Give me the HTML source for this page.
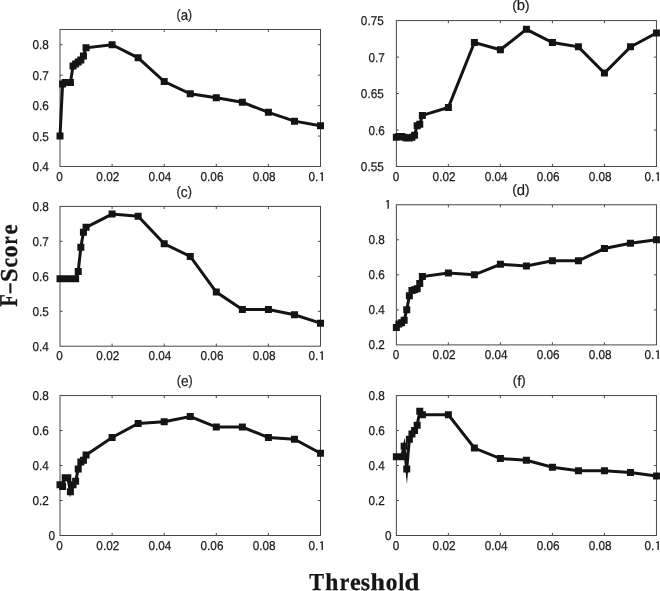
<!DOCTYPE html>
<html><head><meta charset="utf-8"><title>F-Score vs Threshold</title>
<style>
html,body{margin:0;padding:0;background:#fff;}
body{width:660px;height:591px;overflow:hidden;position:relative;font-family:"Liberation Sans",sans-serif;}
svg{position:absolute;left:0;top:0;display:block;filter:grayscale(1);text-rendering:geometricPrecision;}
.t{font-family:"Liberation Sans",sans-serif;font-size:12.8px;fill:#1c1c1c;stroke:#1c1c1c;stroke-width:0.25px;}
.ti{font-family:"Liberation Sans",sans-serif;font-size:14.8px;fill:#1c1c1c;stroke:#1c1c1c;stroke-width:0.2px;}
.sb{font-family:"Liberation Serif",serif;font-weight:bold;fill:#161616;stroke:#161616;stroke-width:0.3px;}
</style></head>
<body>
<svg width="660" height="591" viewBox="0 0 660 591">
<rect width="660" height="591" fill="#fff"/>
<g id="pa">
<rect x="60.00" y="29.50" width="260.50" height="137.00" fill="none" stroke="#484848" stroke-width="1.0"/>
<path d="M112.10 166.50v-2.6M112.10 29.50v2.6M164.20 166.50v-2.6M164.20 29.50v2.6M216.30 166.50v-2.6M216.30 29.50v2.6M268.40 166.50v-2.6M268.40 29.50v2.6M60.00 136.06h2.6M320.50 136.06h-2.6M60.00 105.61h2.6M320.50 105.61h-2.6M60.00 75.17h2.6M320.50 75.17h-2.6M60.00 44.72h2.6M320.50 44.72h-2.6" stroke="#484848" stroke-width="1.0" fill="none"/>
<text transform="translate(56.36,181.00) scale(0.92,1)" class="t">0</text>
<text transform="translate(96.34,181.00) scale(0.92,1)" class="t">0.02</text>
<text transform="translate(148.44,181.00) scale(0.92,1)" class="t">0.04</text>
<text transform="translate(200.54,181.00) scale(0.92,1)" class="t">0.06</text>
<text transform="translate(252.64,181.00) scale(0.92,1)" class="t">0.08</text>
<text transform="translate(308.54,181.00) scale(0.92,1)" class="t">0.</text>
<path transform="translate(322.90,181.00)" fill="#1c1c1c" d="M0 0H-1.35V-7.5L-2.8 -6.65L-3.1 -7.5L-1.1 -8.75H0Z"/>
<text transform="translate(32.54,171.00) scale(0.92,1)" class="t">0.4</text>
<text transform="translate(32.54,140.56) scale(0.92,1)" class="t">0.5</text>
<text transform="translate(32.54,110.11) scale(0.92,1)" class="t">0.6</text>
<text transform="translate(32.54,79.67) scale(0.92,1)" class="t">0.7</text>
<text transform="translate(32.54,49.22) scale(0.92,1)" class="t">0.8</text>
<text transform="translate(176.60,19.80) scale(0.896,1)" class="ti"><tspan font-size="13.6" dy="-0.55">(</tspan><tspan dy="0.55">a</tspan><tspan font-size="13.6" dy="-0.55">)</tspan></text>
<polyline points="60.00,136.06 62.60,84.00 65.21,82.47 67.81,82.47 70.42,82.47 73.03,66.03 75.63,63.90 78.23,62.08 80.84,59.94 83.44,55.99 86.05,47.77 112.10,44.72 138.15,57.81 164.20,81.56 190.25,93.74 216.30,97.70 242.35,102.26 268.40,112.31 294.45,121.14 320.50,125.70" fill="none" stroke="#141414" stroke-width="3.0" stroke-linejoin="miter" stroke-miterlimit="10"/>
<path d="M56.50 132.56h7.0v7.0h-7.0zM59.10 80.50h7.0v7.0h-7.0zM61.71 78.97h7.0v7.0h-7.0zM64.31 78.97h7.0v7.0h-7.0zM66.92 78.97h7.0v7.0h-7.0zM69.53 62.53h7.0v7.0h-7.0zM72.13 60.40h7.0v7.0h-7.0zM74.73 58.58h7.0v7.0h-7.0zM77.34 56.44h7.0v7.0h-7.0zM79.94 52.49h7.0v7.0h-7.0zM82.55 44.27h7.0v7.0h-7.0zM108.60 41.22h7.0v7.0h-7.0zM134.65 54.31h7.0v7.0h-7.0zM160.70 78.06h7.0v7.0h-7.0zM186.75 90.24h7.0v7.0h-7.0zM212.80 94.20h7.0v7.0h-7.0zM238.85 98.76h7.0v7.0h-7.0zM264.90 108.81h7.0v7.0h-7.0zM290.95 117.64h7.0v7.0h-7.0zM317.00 122.20h7.0v7.0h-7.0z" fill="#141414"/>
</g>
<g id="pb">
<rect x="396.35" y="20.60" width="260.10" height="145.90" fill="none" stroke="#484848" stroke-width="1.0"/>
<path d="M448.37 166.50v-2.6M448.37 20.60v2.6M500.39 166.50v-2.6M500.39 20.60v2.6M552.41 166.50v-2.6M552.41 20.60v2.6M604.43 166.50v-2.6M604.43 20.60v2.6M396.35 130.03h2.6M656.45 130.03h-2.6M396.35 93.55h2.6M656.45 93.55h-2.6M396.35 57.08h2.6M656.45 57.08h-2.6" stroke="#484848" stroke-width="1.0" fill="none"/>
<text transform="translate(392.71,181.00) scale(0.92,1)" class="t">0</text>
<text transform="translate(432.61,181.00) scale(0.92,1)" class="t">0.02</text>
<text transform="translate(484.63,181.00) scale(0.92,1)" class="t">0.04</text>
<text transform="translate(536.65,181.00) scale(0.92,1)" class="t">0.06</text>
<text transform="translate(588.67,181.00) scale(0.92,1)" class="t">0.08</text>
<text transform="translate(644.49,181.00) scale(0.92,1)" class="t">0.</text>
<path transform="translate(658.85,181.00)" fill="#1c1c1c" d="M0 0H-1.35V-7.5L-2.8 -6.65L-3.1 -7.5L-1.1 -8.75H0Z"/>
<text transform="translate(360.85,171.00) scale(0.92,1)" class="t">0.55</text>
<text transform="translate(368.55,134.53) scale(0.92,1)" class="t">0.6</text>
<text transform="translate(360.85,98.05) scale(0.92,1)" class="t">0.65</text>
<text transform="translate(368.55,61.58) scale(0.92,1)" class="t">0.7</text>
<text transform="translate(360.85,25.10) scale(0.92,1)" class="t">0.75</text>
<text transform="translate(512.25,10.20) scale(1.004,1)" class="ti"><tspan font-size="13.6" dy="-0.55">(</tspan><tspan dy="0.55">b</tspan><tspan font-size="13.6" dy="-0.55">)</tspan></text>
<polyline points="396.35,137.32 398.95,136.59 401.55,136.59 404.15,137.32 406.75,138.05 409.36,138.05 411.96,137.32 414.56,135.13 417.16,125.65 419.76,124.19 422.36,115.44 448.37,107.41 474.38,42.49 500.39,49.78 526.40,29.35 552.41,42.49 578.42,46.86 604.43,73.12 630.44,46.86 656.45,33.00" fill="none" stroke="#141414" stroke-width="3.0" stroke-linejoin="miter" stroke-miterlimit="10"/>
<path d="M392.85 133.82h7.0v7.0h-7.0zM395.45 133.09h7.0v7.0h-7.0zM398.05 133.09h7.0v7.0h-7.0zM400.65 133.82h7.0v7.0h-7.0zM403.25 134.55h7.0v7.0h-7.0zM405.86 134.55h7.0v7.0h-7.0zM408.46 133.82h7.0v7.0h-7.0zM411.06 131.63h7.0v7.0h-7.0zM413.66 122.15h7.0v7.0h-7.0zM416.26 120.69h7.0v7.0h-7.0zM418.86 111.94h7.0v7.0h-7.0zM444.87 103.91h7.0v7.0h-7.0zM470.88 38.99h7.0v7.0h-7.0zM496.89 46.28h7.0v7.0h-7.0zM522.90 25.85h7.0v7.0h-7.0zM548.91 38.99h7.0v7.0h-7.0zM574.92 43.36h7.0v7.0h-7.0zM600.93 69.62h7.0v7.0h-7.0zM626.94 43.36h7.0v7.0h-7.0zM652.95 29.50h7.0v7.0h-7.0z" fill="#141414"/>
</g>
<g id="pc">
<rect x="60.00" y="206.40" width="260.50" height="139.80" fill="none" stroke="#484848" stroke-width="1.0"/>
<path d="M112.10 346.20v-2.6M112.10 206.40v2.6M164.20 346.20v-2.6M164.20 206.40v2.6M216.30 346.20v-2.6M216.30 206.40v2.6M268.40 346.20v-2.6M268.40 206.40v2.6M60.00 311.25h2.6M320.50 311.25h-2.6M60.00 276.30h2.6M320.50 276.30h-2.6M60.00 241.35h2.6M320.50 241.35h-2.6" stroke="#484848" stroke-width="1.0" fill="none"/>
<text transform="translate(56.36,360.00) scale(0.92,1)" class="t">0</text>
<text transform="translate(96.34,360.00) scale(0.92,1)" class="t">0.02</text>
<text transform="translate(148.44,360.00) scale(0.92,1)" class="t">0.04</text>
<text transform="translate(200.54,360.00) scale(0.92,1)" class="t">0.06</text>
<text transform="translate(252.64,360.00) scale(0.92,1)" class="t">0.08</text>
<text transform="translate(308.54,360.00) scale(0.92,1)" class="t">0.</text>
<path transform="translate(322.90,360.00)" fill="#1c1c1c" d="M0 0H-1.35V-7.5L-2.8 -6.65L-3.1 -7.5L-1.1 -8.75H0Z"/>
<text transform="translate(32.54,350.70) scale(0.92,1)" class="t">0.4</text>
<text transform="translate(32.54,315.75) scale(0.92,1)" class="t">0.5</text>
<text transform="translate(32.54,280.80) scale(0.92,1)" class="t">0.6</text>
<text transform="translate(32.54,245.85) scale(0.92,1)" class="t">0.7</text>
<text transform="translate(32.54,210.90) scale(0.92,1)" class="t">0.8</text>
<text transform="translate(176.60,196.50) scale(0.927,1)" class="ti"><tspan font-size="13.6" dy="-0.55">(</tspan><tspan dy="0.55">c</tspan><tspan font-size="13.6" dy="-0.55">)</tspan></text>
<polyline points="60.00,278.75 62.60,278.75 65.21,278.75 67.81,278.75 70.42,278.75 73.03,278.75 75.63,278.75 78.23,271.41 80.84,247.29 83.44,232.26 86.05,227.37 112.10,214.09 138.15,216.19 164.20,243.80 190.25,256.38 216.30,292.03 242.35,309.50 268.40,309.50 294.45,314.75 320.50,323.13" fill="none" stroke="#141414" stroke-width="3.0" stroke-linejoin="miter" stroke-miterlimit="10"/>
<path d="M56.50 275.25h7.0v7.0h-7.0zM59.10 275.25h7.0v7.0h-7.0zM61.71 275.25h7.0v7.0h-7.0zM64.31 275.25h7.0v7.0h-7.0zM66.92 275.25h7.0v7.0h-7.0zM69.53 275.25h7.0v7.0h-7.0zM72.13 275.25h7.0v7.0h-7.0zM74.73 267.91h7.0v7.0h-7.0zM77.34 243.79h7.0v7.0h-7.0zM79.94 228.76h7.0v7.0h-7.0zM82.55 223.87h7.0v7.0h-7.0zM108.60 210.59h7.0v7.0h-7.0zM134.65 212.69h7.0v7.0h-7.0zM160.70 240.30h7.0v7.0h-7.0zM186.75 252.88h7.0v7.0h-7.0zM212.80 288.53h7.0v7.0h-7.0zM238.85 306.00h7.0v7.0h-7.0zM264.90 306.00h7.0v7.0h-7.0zM290.95 311.25h7.0v7.0h-7.0zM317.00 319.63h7.0v7.0h-7.0z" fill="#141414"/>
</g>
<g id="pd">
<rect x="396.35" y="204.75" width="260.10" height="140.15" fill="none" stroke="#484848" stroke-width="1.0"/>
<path d="M448.37 344.90v-2.6M448.37 204.75v2.6M500.39 344.90v-2.6M500.39 204.75v2.6M552.41 344.90v-2.6M552.41 204.75v2.6M604.43 344.90v-2.6M604.43 204.75v2.6M396.35 309.86h2.6M656.45 309.86h-2.6M396.35 274.82h2.6M656.45 274.82h-2.6M396.35 239.79h2.6M656.45 239.79h-2.6" stroke="#484848" stroke-width="1.0" fill="none"/>
<text transform="translate(392.71,359.00) scale(0.92,1)" class="t">0</text>
<text transform="translate(432.61,359.00) scale(0.92,1)" class="t">0.02</text>
<text transform="translate(484.63,359.00) scale(0.92,1)" class="t">0.04</text>
<text transform="translate(536.65,359.00) scale(0.92,1)" class="t">0.06</text>
<text transform="translate(588.67,359.00) scale(0.92,1)" class="t">0.08</text>
<text transform="translate(644.49,359.00) scale(0.92,1)" class="t">0.</text>
<path transform="translate(658.85,359.00)" fill="#1c1c1c" d="M0 0H-1.35V-7.5L-2.8 -6.65L-3.1 -7.5L-1.1 -8.75H0Z"/>
<text transform="translate(368.55,349.40) scale(0.92,1)" class="t">0.2</text>
<text transform="translate(368.55,314.36) scale(0.92,1)" class="t">0.4</text>
<text transform="translate(368.55,279.32) scale(0.92,1)" class="t">0.6</text>
<text transform="translate(368.55,244.29) scale(0.92,1)" class="t">0.8</text>
<path transform="translate(388.80,208.70)" fill="#1c1c1c" d="M0 0H-1.35V-7.5L-2.8 -6.65L-3.1 -7.5L-1.1 -8.75H0Z"/>
<text transform="translate(512.25,194.50) scale(1.004,1)" class="ti"><tspan font-size="13.6" dy="-0.55">(</tspan><tspan dy="0.55">d</tspan><tspan font-size="13.6" dy="-0.55">)</tspan></text>
<polyline points="396.35,327.38 398.95,323.88 401.55,322.65 404.15,320.37 406.75,309.86 409.36,295.85 411.96,290.59 414.56,289.72 417.16,288.84 419.76,283.58 422.36,276.58 448.37,273.07 474.38,274.82 500.39,264.31 526.40,266.07 552.41,260.81 578.42,260.81 604.43,248.55 630.44,243.29 656.45,239.79" fill="none" stroke="#141414" stroke-width="3.0" stroke-linejoin="miter" stroke-miterlimit="10"/>
<path d="M392.85 323.88h7.0v7.0h-7.0zM395.45 320.38h7.0v7.0h-7.0zM398.05 319.15h7.0v7.0h-7.0zM400.65 316.87h7.0v7.0h-7.0zM403.25 306.36h7.0v7.0h-7.0zM405.86 292.35h7.0v7.0h-7.0zM408.46 287.09h7.0v7.0h-7.0zM411.06 286.22h7.0v7.0h-7.0zM413.66 285.34h7.0v7.0h-7.0zM416.26 280.08h7.0v7.0h-7.0zM418.86 273.08h7.0v7.0h-7.0zM444.87 269.57h7.0v7.0h-7.0zM470.88 271.32h7.0v7.0h-7.0zM496.89 260.81h7.0v7.0h-7.0zM522.90 262.57h7.0v7.0h-7.0zM548.91 257.31h7.0v7.0h-7.0zM574.92 257.31h7.0v7.0h-7.0zM600.93 245.05h7.0v7.0h-7.0zM626.94 239.79h7.0v7.0h-7.0zM652.95 236.29h7.0v7.0h-7.0z" fill="#141414"/>
</g>
<g id="pe">
<rect x="60.00" y="395.55" width="260.50" height="139.95" fill="none" stroke="#484848" stroke-width="1.0"/>
<path d="M112.10 535.50v-2.6M112.10 395.55v2.6M164.20 535.50v-2.6M164.20 395.55v2.6M216.30 535.50v-2.6M216.30 395.55v2.6M268.40 535.50v-2.6M268.40 395.55v2.6M60.00 500.51h2.6M320.50 500.51h-2.6M60.00 465.52h2.6M320.50 465.52h-2.6M60.00 430.54h2.6M320.50 430.54h-2.6" stroke="#484848" stroke-width="1.0" fill="none"/>
<text transform="translate(56.36,550.00) scale(0.92,1)" class="t">0</text>
<text transform="translate(96.34,550.00) scale(0.92,1)" class="t">0.02</text>
<text transform="translate(148.44,550.00) scale(0.92,1)" class="t">0.04</text>
<text transform="translate(200.54,550.00) scale(0.92,1)" class="t">0.06</text>
<text transform="translate(252.64,550.00) scale(0.92,1)" class="t">0.08</text>
<text transform="translate(308.54,550.00) scale(0.92,1)" class="t">0.</text>
<path transform="translate(322.90,550.00)" fill="#1c1c1c" d="M0 0H-1.35V-7.5L-2.8 -6.65L-3.1 -7.5L-1.1 -8.75H0Z"/>
<text transform="translate(48.56,540.00) scale(0.92,1)" class="t">0</text>
<text transform="translate(32.54,505.01) scale(0.92,1)" class="t">0.2</text>
<text transform="translate(32.54,470.02) scale(0.92,1)" class="t">0.4</text>
<text transform="translate(32.54,435.04) scale(0.92,1)" class="t">0.6</text>
<text transform="translate(32.54,400.05) scale(0.92,1)" class="t">0.8</text>
<text transform="translate(176.70,385.50) scale(0.922,1)" class="ti"><tspan font-size="13.6" dy="-0.55">(</tspan><tspan dy="0.55">e</tspan><tspan font-size="13.6" dy="-0.55">)</tspan></text>
<polyline points="60.00,484.77 62.60,486.52 65.21,477.77 67.81,477.77 70.42,491.77 73.03,484.77 75.63,481.27 78.23,469.02 80.84,462.03 83.44,460.28 86.05,455.03 112.10,437.54 138.15,423.54 164.20,421.79 190.25,416.54 216.30,427.04 242.35,427.04 268.40,437.54 294.45,439.28 320.50,453.28" fill="none" stroke="#141414" stroke-width="3.0" stroke-linejoin="miter" stroke-miterlimit="10"/>
<path d="M56.50 481.27h7.0v7.0h-7.0zM59.10 483.02h7.0v7.0h-7.0zM61.71 474.27h7.0v7.0h-7.0zM64.31 474.27h7.0v7.0h-7.0zM66.92 488.27h7.0v7.0h-7.0zM69.53 481.27h7.0v7.0h-7.0zM72.13 477.77h7.0v7.0h-7.0zM74.73 465.52h7.0v7.0h-7.0zM77.34 458.53h7.0v7.0h-7.0zM79.94 456.78h7.0v7.0h-7.0zM82.55 451.53h7.0v7.0h-7.0zM108.60 434.04h7.0v7.0h-7.0zM134.65 420.04h7.0v7.0h-7.0zM160.70 418.29h7.0v7.0h-7.0zM186.75 413.04h7.0v7.0h-7.0zM212.80 423.54h7.0v7.0h-7.0zM238.85 423.54h7.0v7.0h-7.0zM264.90 434.04h7.0v7.0h-7.0zM290.95 435.78h7.0v7.0h-7.0zM317.00 449.78h7.0v7.0h-7.0z" fill="#141414"/>
</g>
<g id="pf">
<rect x="396.35" y="395.55" width="260.10" height="139.95" fill="none" stroke="#484848" stroke-width="1.0"/>
<path d="M448.37 535.50v-2.6M448.37 395.55v2.6M500.39 535.50v-2.6M500.39 395.55v2.6M552.41 535.50v-2.6M552.41 395.55v2.6M604.43 535.50v-2.6M604.43 395.55v2.6M396.35 500.51h2.6M656.45 500.51h-2.6M396.35 465.52h2.6M656.45 465.52h-2.6M396.35 430.54h2.6M656.45 430.54h-2.6" stroke="#484848" stroke-width="1.0" fill="none"/>
<text transform="translate(392.71,550.00) scale(0.92,1)" class="t">0</text>
<text transform="translate(432.61,550.00) scale(0.92,1)" class="t">0.02</text>
<text transform="translate(484.63,550.00) scale(0.92,1)" class="t">0.04</text>
<text transform="translate(536.65,550.00) scale(0.92,1)" class="t">0.06</text>
<text transform="translate(588.67,550.00) scale(0.92,1)" class="t">0.08</text>
<text transform="translate(644.49,550.00) scale(0.92,1)" class="t">0.</text>
<path transform="translate(658.85,550.00)" fill="#1c1c1c" d="M0 0H-1.35V-7.5L-2.8 -6.65L-3.1 -7.5L-1.1 -8.75H0Z"/>
<text transform="translate(384.91,540.00) scale(0.92,1)" class="t">0</text>
<text transform="translate(368.55,505.01) scale(0.92,1)" class="t">0.2</text>
<text transform="translate(368.55,470.02) scale(0.92,1)" class="t">0.4</text>
<text transform="translate(368.55,435.04) scale(0.92,1)" class="t">0.6</text>
<text transform="translate(368.55,400.05) scale(0.92,1)" class="t">0.8</text>
<text transform="translate(512.80,385.50) scale(0.978,1)" class="ti"><tspan font-size="13.6" dy="-0.55">(</tspan><tspan dy="0.55">f</tspan><tspan font-size="13.6" dy="-0.55">)</tspan></text>
<polyline points="396.35,456.78 398.95,456.78 401.55,456.78 404.15,446.28 406.75,469.02 409.36,439.28 411.96,434.04 414.56,430.54 417.16,425.29 419.76,411.29 422.36,414.79 448.37,414.79 474.38,448.03 500.39,458.53 526.40,460.28 552.41,467.27 578.42,470.77 604.43,470.77 630.44,472.52 656.45,476.02" fill="none" stroke="#141414" stroke-width="3.0" stroke-linejoin="miter" stroke-miterlimit="10"/>
<path d="M392.85 453.28h7.0v7.0h-7.0zM395.45 453.28h7.0v7.0h-7.0zM398.05 453.28h7.0v7.0h-7.0zM400.65 442.78h7.0v7.0h-7.0zM403.25 465.52h7.0v7.0h-7.0zM405.86 435.78h7.0v7.0h-7.0zM408.46 430.54h7.0v7.0h-7.0zM411.06 427.04h7.0v7.0h-7.0zM413.66 421.79h7.0v7.0h-7.0zM416.26 407.79h7.0v7.0h-7.0zM418.86 411.29h7.0v7.0h-7.0zM444.87 411.29h7.0v7.0h-7.0zM470.88 444.53h7.0v7.0h-7.0zM496.89 455.03h7.0v7.0h-7.0zM522.90 456.78h7.0v7.0h-7.0zM548.91 463.77h7.0v7.0h-7.0zM574.92 467.27h7.0v7.0h-7.0zM600.93 467.27h7.0v7.0h-7.0zM626.94 469.02h7.0v7.0h-7.0zM652.95 472.52h7.0v7.0h-7.0z" fill="#141414"/>
</g>
<g class="sb" font-size="24.3" transform="translate(17.06,306.7) rotate(-90)"><text transform="translate(0.10,0) scale(0.823,1.06)">F</text><text transform="translate(13.69,-1.4) scale(0.783,1)">–</text><text transform="translate(24.68,0) scale(1.007,1)">S</text><text transform="translate(39.16,0) scale(0.876,1)">c</text><text transform="translate(49.08,0) scale(0.982,1)">o</text><text transform="translate(62.24,0) scale(0.743,1)">r</text><text transform="translate(72.22,0) scale(0.939,1)">e</text></g>
<g class="sb" font-size="24.3" transform="translate(0,589.8)"><text transform="translate(309.18,0) scale(0.912,1)">T</text><text transform="translate(325.33,0) scale(0.971,1)">h</text><text transform="translate(339.87,0) scale(0.893,1)">r</text><text transform="translate(350.08,0) scale(0.992,1)">e</text><text transform="translate(360.79,0) scale(0.980,1)">s</text><text transform="translate(370.58,0) scale(1.064,1)">h</text><text transform="translate(385.70,0) scale(0.963,1)">o</text><text transform="translate(398.50,0) scale(0.839,1)">l</text><text transform="translate(404.53,0) scale(1.105,1)">d</text></g>
</svg>
</body></html>
